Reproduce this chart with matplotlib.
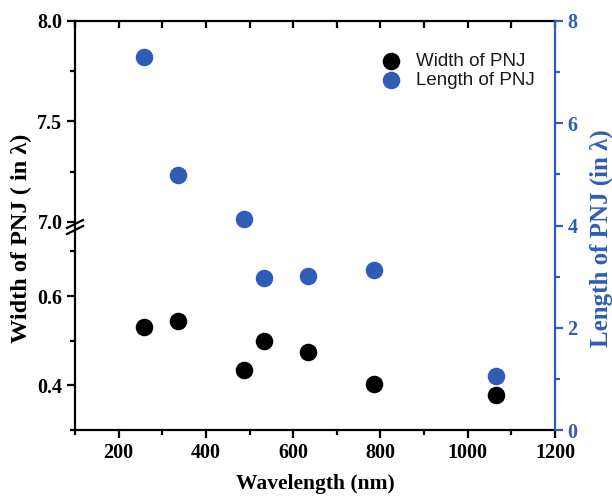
import matplotlib
matplotlib.use("Agg")
import matplotlib.pyplot as plt
from matplotlib.lines import Line2D
from matplotlib.ticker import MultipleLocator

# data
wavelength = [257, 337, 488, 532, 633, 785, 1064]
width_pnj = [0.531, 0.544, 0.434, 0.500, 0.474, 0.403, 0.379]
length_pnj = [7.29, 4.98, 4.13, 2.98, 3.01, 3.12, 1.06]

x_ticks = [200, 400, 600, 800, 1000, 1200]
upper_ticks = [7.0, 7.5, 8.0]
lower_ticks = [0.4, 0.6]
right_ticks = [0, 2, 4, 6, 8]

blue = "#2f5db6"

plt.rcParams["font.family"] = ["Liberation Serif", "DejaVu Serif"]
plt.rcParams["font.weight"] = "bold"
plt.rcParams["axes.labelweight"] = "bold"

W, H = 612, 504
fig = plt.figure(figsize=(W / 100, H / 100), dpi=100)

# axes box in pixels (from top-left)
px_left, px_right, px_top, px_bottom, px_break = 75, 555, 21, 430, 226
l = px_left / W
w = (px_right - px_left) / W
b_bot = (H - px_bottom) / H
h_bot = (px_bottom - px_break) / H
b_top = (H - px_break) / H
h_top = (px_break - px_top) / H
h_full = (px_bottom - px_top) / H

ax_bot = fig.add_axes([l, b_bot, w, h_bot])
ax_top = fig.add_axes([l, b_top, w, h_top], sharex=ax_bot)
ax_r = fig.add_axes([l, b_bot, w, h_full], sharex=ax_bot)
ax_r.patch.set_alpha(0)

lw = 1.6
for ax in (ax_bot, ax_top, ax_r):
    for s in ax.spines.values():
        s.set_linewidth(lw)

# lower segment of the broken left axis
ax_bot.scatter(wavelength, width_pnj, s=135, color="black", zorder=3,
               label="Width of PNJ", clip_on=False)
ax_bot.set_xlim(100, 1200)
ax_bot.set_ylim(0.3, 0.757)
ax_bot.spines["top"].set_visible(False)
ax_bot.spines["right"].set_visible(False)
ax_bot.set_xticks(x_ticks)
ax_bot.xaxis.set_minor_locator(MultipleLocator(100))
ax_bot.set_yticks(lower_ticks)
ax_bot.set_yticklabels([f"{v:.1f}" for v in lower_ticks])
ax_bot.yaxis.set_minor_locator(MultipleLocator(0.1))
ax_bot.tick_params(axis="both", which="major", direction="out", length=6,
                   width=lw, labelsize=14.5, pad=3)
ax_bot.tick_params(axis="both", which="minor", direction="out", length=3.5,
                   width=lw)
ax_bot.set_xlabel("Wavelength (nm)", fontsize=15.5, labelpad=8)

# upper segment of the broken left axis
ax_top.set_ylim(6.98, 8.0)
ax_top.spines["bottom"].set_visible(False)
ax_top.spines["right"].set_visible(False)
ax_top.set_yticks(upper_ticks)
ax_top.set_yticklabels([f"{v:.1f}" for v in upper_ticks])
ax_top.yaxis.set_minor_locator(MultipleLocator(0.25))
ax_top.tick_params(axis="y", which="major", direction="out", length=6,
                   width=lw, labelsize=14.5, pad=3)
ax_top.tick_params(axis="y", which="minor", direction="out", length=3.5,
                   width=lw)
ax_top.tick_params(axis="x", which="both", bottom=False, labelbottom=False,
                   top=True, direction="in", length=5, width=lw)

# right axis for the length
ax_r.scatter(wavelength, length_pnj, s=135, color=blue, zorder=3,
             label="Length of PNJ", clip_on=False)
ax_r.set_ylim(0, 8)
for side in ("left", "top", "bottom"):
    ax_r.spines[side].set_visible(False)
ax_r.spines["right"].set_color(blue)
ax_r.yaxis.tick_right()
ax_r.set_yticks(right_ticks)
ax_r.yaxis.set_minor_locator(MultipleLocator(1))
ax_r.tick_params(axis="y", which="major", direction="out", length=6,
                 width=lw, colors=blue, labelsize=14.5, pad=3)
ax_r.tick_params(axis="y", which="minor", direction="out", length=3.5,
                 width=lw, colors=blue)
ax_r.tick_params(axis="x", which="both", bottom=False, labelbottom=False)

# y axis labels, both sitting a little below the box centre
label_y = 1 - 238 / H
fig.text(21 / W, label_y, "Width of PNJ ( in λ)", rotation=90,
         ha="center", va="center", fontsize=17.5, fontweight="bold")
fig.text(601 / W, label_y, "Length of PNJ (in λ)", rotation=90,
         ha="center", va="center", fontsize=18, fontweight="bold", color=blue)

# break marks on the left spine
yb = b_top
for dy in (-4 / H, 2 / H):
    fig.add_artist(Line2D([l - 8 / W, l + 8 / W], [yb + dy - 4 / H, yb + dy + 4 / H],
                          transform=fig.transFigure, color="black", lw=1.6))

handles = [ax_bot.collections[0], ax_r.collections[0]]
leg = ax_r.legend(handles, [h.get_label() for h in handles], loc="upper left",
                  bbox_to_anchor=(355 / W, 1 - 36 / H),
                  bbox_transform=fig.transFigure, frameon=False,
                  prop={"family": "Liberation Sans", "size": 13.5,
                        "weight": "normal"},
                  handletextpad=0.35, labelspacing=0.1, markerscale=1.0)
for t in leg.get_texts():
    t.set_color("#1a1a1a")

fig.savefig("out.png", dpi=100)
